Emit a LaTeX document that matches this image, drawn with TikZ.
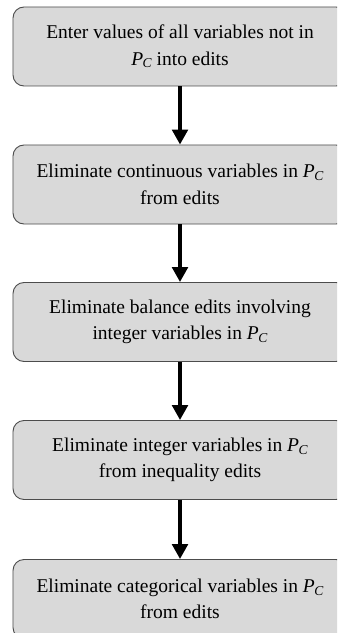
\documentclass[tikz,border=0pt]{standalone}
\usepackage{fontspec}
\setmainfont{Liberation Serif}
\usetikzlibrary{arrows.meta}
\newcommand{\PsetC}{\textit{P}\kern-0.5pt\raisebox{-0.32ex}{\fontsize{13.5bp}{14bp}\selectfont\textit{C}}}
\tikzset{
  stagebox/.style={draw=black!70, line width=0.9bp, fill=black!15, rounded corners=11bp,
    minimum width=334bp, minimum height=79bp, align=center,
    font=\fontsize{19.5bp}{26.5bp}\selectfont, inner sep=0pt},
  flowarrow/.style={line width=4.6bp, -{Triangle[width=15.5bp,length=15bp]}, black}
}
\begin{document}
\begin{tikzpicture}[x=1bp,y=-1bp]
\useasboundingbox (0,0) rectangle (337,633);
\clip (0,0) rectangle (337,633);
\node[stagebox] (s1) at (180,46.5) {Enter values of all variables not in\\\PsetC{} into edits};
\node[stagebox] (s2) at (180,184.5) {Eliminate continuous variables in \PsetC\\from edits};
\node[stagebox] (s3) at (180,322) {Eliminate balance edits involving\\integer variables in \PsetC};
\node[stagebox] (s4) at (180,460) {Eliminate integer variables in \PsetC\\from inequality edits};
\node[stagebox] (s5) at (180,599) {Eliminate categorical variables in \PsetC\\from edits};
\draw[flowarrow] (s1.south) -- (s2.north);
\draw[flowarrow] (s2.south) -- (s3.north);
\draw[flowarrow] (s3.south) -- (s4.north);
\draw[flowarrow] (s4.south) -- (s5.north);
\end{tikzpicture}
\end{document}
